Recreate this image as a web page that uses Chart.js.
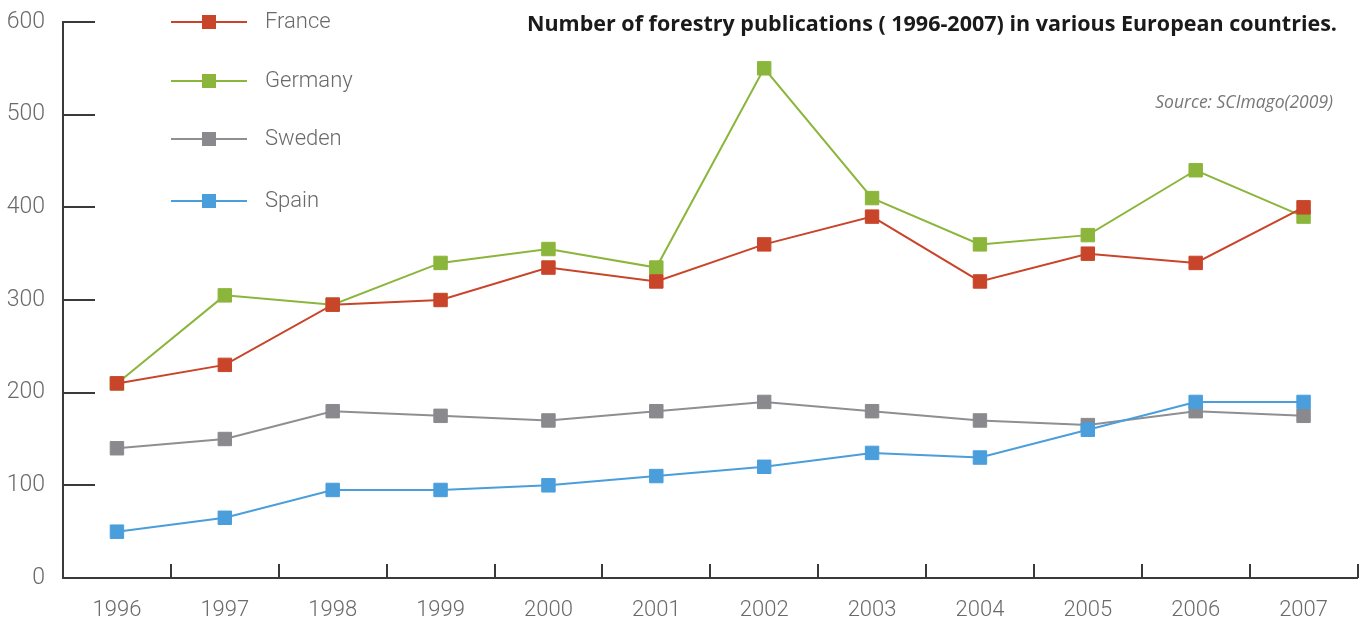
<!DOCTYPE html>
<html>
<head>
<meta charset="utf-8">
<script src="https://cdn.jsdelivr.net/npm/chart.js@4.4.1/dist/chart.umd.min.js"></script>
<style>
  html, body { margin: 0; padding: 0; background: #fff; }
  #wrap { width: 1368px; height: 619px; }
</style>
</head>
<body>
<div id="wrap"><canvas id="chart" width="1368" height="619"></canvas></div>
<script>
// data
var years = ['1996','1997','1998','1999','2000','2001','2002','2003','2004','2005','2006','2007'];
var france  = [210, 230, 295, 300, 335, 320, 360, 390, 320, 350, 340, 400];
var germany = [210, 305, 295, 340, 355, 335, 550, 410, 360, 370, 440, 390];
var sweden  = [140, 150, 180, 175, 170, 180, 190, 180, 170, 165, 180, 175];
var spain   = [ 50,  65,  95,  95, 100, 110, 120, 135, 130, 160, 190, 190];
var yTicks  = [0, 100, 200, 300, 400, 500, 600];

var titleText = 'Number of forestry publications ( 1996-2007) in various European countries.';
var sourceText = 'Source: SCImago(2009)';

var axisColor = '#3a3a3a';
var labelColor = '#6a6a6a';

function series(label, data, color, lineColor, order) {
  return {
    label: label,
    data: data,
    borderColor: lineColor,
    backgroundColor: color,
    borderWidth: 2,
    pointStyle: 'rect',
    pointRadius: 9.5,
    pointBorderWidth: 1,
    pointBorderColor: color,
    pointBackgroundColor: color,
    tension: 0,
    order: order
  };
}

var datasets = [
  series('France',  france,  '#c9452a', '#c9452a', 0),
  series('Germany', germany, '#8bb63b', '#8bb63b', 1),
  series('Sweden',  sweden,  '#8a8a8e', '#8f8f93', 3),
  series('Spain',   spain,   '#4a9edb', '#4a9edb', 2)
];

// tick marks inside the plot, legend column and the texts
var decor = {
  id: 'decor',
  afterDraw: function(chart) {
    var ctx = chart.ctx;
    var xs = chart.scales.x, ys = chart.scales.y;
    var area = chart.chartArea;
    ctx.save();
    ctx.strokeStyle = axisColor;
    ctx.lineWidth = 2;
    // y tick marks pointing right
    yTicks.forEach(function(v) {
      if (v === 0) return;
      var y = Math.round(ys.getPixelForValue(v));
      ctx.beginPath();
      ctx.moveTo(area.left, y);
      ctx.lineTo(area.left + 32, y);
      ctx.stroke();
    });
    // x tick marks at category borders pointing up
    for (var i = 1; i <= years.length; i++) {
      var x = Math.round((xs.getPixelForValue(i - 1) + xs.getPixelForValue(i)) / 2);
      if (i === years.length) x = Math.round(area.right);
      ctx.beginPath();
      ctx.moveTo(x, area.bottom);
      ctx.lineTo(x, area.bottom - 14);
      ctx.stroke();
    }
    // legend
    var legendY = [22, 81, 139, 201];
    chart.data.datasets.forEach(function(ds, k) {
      var y = legendY[k];
      ctx.strokeStyle = ds.borderColor;
      ctx.lineWidth = 2;
      ctx.beginPath();
      ctx.moveTo(171, y);
      ctx.lineTo(247, y);
      ctx.stroke();
      ctx.fillStyle = ds.pointBackgroundColor;
      ctx.fillRect(202, y - 7, 14, 14);
      ctx.fillStyle = labelColor;
      ctx.font = '300 22px Roboto';
      ctx.textAlign = 'left';
      ctx.textBaseline = 'middle';
      ctx.fillText(ds.label, 265, y);
    });
    // title and source
    ctx.fillStyle = '#1a1a1a';
    ctx.font = 'bold 21.5px "Open Sans"';
    ctx.textAlign = 'right';
    ctx.textBaseline = 'alphabetic';
    ctx.fillText(titleText, 1337, 31);
    ctx.fillStyle = '#777';
    ctx.font = 'italic 17.5px "Open Sans"';
    ctx.fillText(sourceText, 1333, 108);
    ctx.restore();
  }
};

new Chart(document.getElementById('chart'), {
  type: 'line',
  data: { labels: years, datasets: datasets },
  options: {
    responsive: false,
    animation: false,
    events: [],
    layout: { padding: { top: 22, right: 9, left: 0, bottom: 0 } },
    plugins: {
      legend: { display: false },
      title: { display: false },
      tooltip: { enabled: false }
    },
    scales: {
      x: {
        type: 'category',
        offset: true,
        grid: { display: false, drawTicks: false },
        border: { display: true, color: axisColor, width: 2 },
        ticks: { color: labelColor, font: { family: 'Roboto', size: 22, weight: '300' }, padding: 19, maxRotation: 0 },
        afterFit: function(scale) { scale.height = 41; scale.paddingLeft = 0; scale.paddingRight = 0; }
      },
      y: {
        min: 0,
        max: 600,
        grid: { display: false, drawTicks: false },
        border: { display: true, color: axisColor, width: 2 },
        ticks: {
          color: labelColor,
          font: { family: 'Roboto', size: 23, weight: '300' },
          padding: 18,
          stepSize: 100,
          callback: function(v) { return yTicks.indexOf(v) >= 0 ? v : ''; }
        },
        afterFit: function(scale) { scale.width = 63; scale.paddingTop = 0; scale.paddingBottom = 0; }
      }
    }
  },
  plugins: [decor]
});
</script>
</body>
</html>
